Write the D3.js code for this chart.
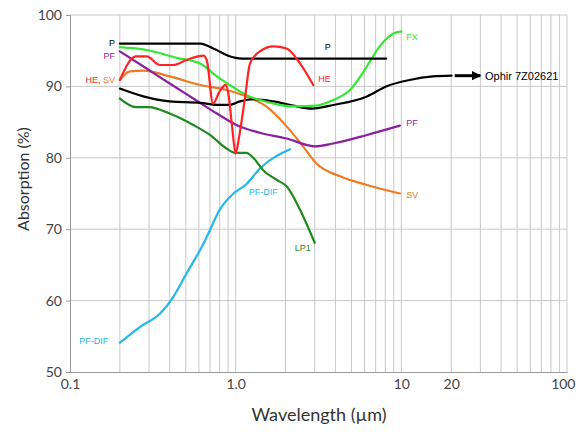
<!DOCTYPE html>
<html><head><meta charset="utf-8">
<script src="https://cdn.jsdelivr.net/npm/d3@7"></script>
<style>body{margin:0;background:#fff}svg{display:block}</style>
</head><body>
<svg id="c" width="576" height="432"></svg>
<script>
// ---- data ----
const xTickValues = [0.1, 1, 10, 20, 100];
const xTickLabels = ["0.1", "1.0", "10", "20", "100"];
const yTickValues = [50, 60, 70, 80, 90, 100];

const P_wl   = [0.2, 0.61, 0.75, 0.9, 1.09, 8.1];
const P_val  = [96.0, 96.0, 95.2, 94.3, 93.9, 93.9];

const FX_wl  = [0.2, 0.29, 0.44, 0.61, 0.77, 1.01, 1.16, 1.69, 2.22, 3.07, 3.88, 4.9, 6.2, 7.4, 8.95, 10];
const FX_val = [95.5, 95.1, 94.0, 93.2, 91.4, 89.6, 88.8, 87.6, 87.2, 87.3, 88.1, 89.5, 92.8, 95.6, 97.4, 97.7];

const OP_wl  = [0.2, 0.277, 0.40, 0.61, 0.80, 0.92, 1.06, 1.30, 1.69, 2.22, 2.9, 3.88, 6.2, 8.1, 11.2, 15.5, 20.1];
const OP_val = [89.7, 88.6, 87.9, 87.7, 87.4, 87.4, 87.9, 88.2, 87.9, 87.3, 86.9, 87.4, 88.6, 90.0, 90.9, 91.4, 91.5];

const PF_wl  = [0.2, 0.29, 0.40, 0.555, 0.77, 1.01, 1.4, 2.03, 2.8, 3.0, 3.88, 6.2, 9.8];
const PF_val = [94.9, 92.5, 90.4, 88.3, 86.2, 84.6, 83.5, 82.7, 81.7, 81.6, 82.0, 83.2, 84.5];

const SV_wl  = [0.2, 0.23, 0.277, 0.40, 0.61, 0.88, 1.16, 1.53, 2.03, 2.55, 3.07, 4.26, 6.2, 9.8];
const SV_val = [90.9, 92.1, 92.2, 91.4, 90.2, 89.5, 88.6, 87.2, 84.4, 81.6, 79.2, 77.4, 76.2, 75.0];

const HE_wl  = [0.2, 0.25, 0.29, 0.35, 0.42, 0.505, 0.64, 0.67, 0.73, 0.80, 0.87, 0.91, 0.95, 1.0, 1.05, 1.14, 1.22, 1.40, 1.69, 2.03, 2.45, 2.94];
const HE_val = [90.9, 94.2, 94.2, 93.0, 93.0, 93.7, 94.3, 93.6, 87.6, 89.3, 90.2, 88.5, 84.5, 80.6, 83.0, 88.5, 93.2, 94.9, 95.6, 95.3, 93.2, 90.2];

const LP_wl  = [0.2, 0.25, 0.30, 0.40, 0.555, 0.70, 0.88, 0.99, 1.16, 1.29, 1.46, 1.77, 2.03, 2.45, 3.0];
const LP_val = [88.3, 87.1, 87.1, 86.2, 84.6, 83.2, 81.3, 80.7, 80.7, 79.9, 78.3, 76.9, 76.0, 72.7, 68.1];

const DIF_wl  = [0.2, 0.264, 0.35, 0.42, 0.505, 0.64, 0.70, 0.80, 0.97, 1.16, 1.40, 2.13];
const DIF_val = [54.1, 56.3, 58.2, 60.5, 63.8, 68.0, 69.9, 72.7, 75.0, 76.3, 78.5, 81.2];

const arrowWl = [21, 30];
const arrowVal = 91.5;

const seriesNames  = ["PF-DIF", "LP1", "SV", "PF", "Ophir", "FX", "P", "HE"];
const seriesColors = ["#22b8e8", "#1e8a1e", "#f07a22", "#8a1fa0", "#000000", "#33e833", "#000000", "#ff2222"];

// annotations: [text, wavelength, value, color, anchor]
const labelText  = ["P", "PF", "HE, SV", "PF-DIF", "P", "HE", "FX", "PF", "SV", "PF-DIF", "LP1", "Ophir 7Z02621"];
const labelWl    = [0.187, 0.187, 0.187, 0.17, 3.6, 3.15, 10.7, 10.7, 10.7, 1.2, 2.27, 32];
const labelVal   = [96.1, 94.3, 90.9, 54.3, 95.5, 91.0, 96.9, 84.9, 74.8, 75.2, 67.4, 91.5];
const labelColor = ["#000", "#8a1fa0", "#ff2222", "#22b8e8", "#000", "#ff2222", "#33e833", "#8a1fa0", "#f07a22", "#22b8e8", "#1e8a1e", "#000"];
const labelAnchor= ["end", "end", "end", "end", "middle", "start", "start", "start", "start", "start", "start", "start"];

// ---- chart ----
const svg = d3.select("#c");
const L = 70, R = 567, T = 15, B = 372;
const x = d3.scaleLog().domain([0.1, 100]).range([L, R]);
const y = d3.scaleLinear().domain([50, 100]).range([B, T]);

// grid
const minor = [];
for (const d of [0.1, 1, 10]) for (let k = 2; k <= 10; k++) minor.push(d * k);
svg.append("g").selectAll("line").data(minor).join("line")
  .attr("x1", d => x(d)).attr("x2", d => x(d)).attr("y1", T).attr("y2", B)
  .attr("stroke", "#c8c8c8").attr("stroke-width", 1);
svg.append("g").selectAll("line").data(yTickValues.slice(1)).join("line")
  .attr("x1", L).attr("x2", R).attr("y1", d => y(d)).attr("y2", d => y(d))
  .attr("stroke", "#c8c8c8").attr("stroke-width", 1);

// axes
const yAxis = svg.append("g").attr("transform", `translate(${L},0)`)
  .call(d3.axisLeft(y).tickValues(yTickValues).tickSize(4).tickPadding(4));
yAxis.select(".domain").attr("stroke", "#999");
yAxis.selectAll(".tick line").attr("stroke", "#999");
yAxis.selectAll("text").attr("font-family", "Lato, 'Open Sans', sans-serif").attr("font-size", 14).attr("fill", "#444");

const xAxis = svg.append("g").attr("transform", `translate(0,${B})`)
  .call(d3.axisBottom(x).tickValues(xTickValues).tickFormat((d, i) => xTickLabels[i]).tickSize(0).tickPadding(7));
xAxis.select(".domain").attr("stroke", "#999");
xAxis.selectAll("text").attr("font-family", "Lato, 'Open Sans', sans-serif").attr("font-size", 14).attr("fill", "#444");
xAxis.selectAll("text").filter(d => d === 100).attr("text-anchor", "end").attr("dx", 575 - R);

// title
svg.append("text").attr("x", 319).attr("y", 421).attr("text-anchor", "middle")
  .attr("font-family", "Lato, 'Open Sans', sans-serif").attr("font-size", 18).attr("fill", "#333")
  .text("Wavelength (µm)");
svg.append("text").attr("transform", "translate(29,179) rotate(-90)").attr("text-anchor", "middle")
  .attr("font-family", "Lato, 'Open Sans', sans-serif").attr("font-size", 16).attr("fill", "#333")
  .text("Absorption (%)");

// series
const allWl = [DIF_wl, LP_wl, SV_wl, PF_wl, OP_wl, FX_wl, P_wl, HE_wl];
const allVal = [DIF_val, LP_val, SV_val, PF_val, OP_val, FX_val, P_val, HE_val];
const line = d3.line().x(d => x(d[0])).y(d => y(d[1])).curve(d3.curveMonotoneX);
seriesNames.forEach((n, i) => {
  const pts = allWl[i].map((w, j) => [w, allVal[i][j]]);
  svg.append("path").datum(pts).attr("d", line)
    .attr("fill", "none").attr("stroke", seriesColors[i]).attr("stroke-width", 2.2)
    .attr("stroke-linejoin", "round").attr("stroke-linecap", "round");
});

// arrow
svg.append("defs").append("marker").attr("id", "ah").attr("viewBox", "0 0 10 10")
  .attr("refX", 9).attr("refY", 5).attr("markerWidth", 3.2).attr("markerHeight", 3.2)
  .attr("orient", "auto").attr("markerUnits", "strokeWidth")
  .append("path").attr("d", "M0,0 L10,5 L0,10 Z").attr("fill", "#000");
svg.append("line").attr("x1", x(arrowWl[0])).attr("x2", x(arrowWl[1]))
  .attr("y1", y(arrowVal)).attr("y2", y(arrowVal))
  .attr("stroke", "#000").attr("stroke-width", 3).attr("marker-end", "url(#ah)");

// labels
svg.append("g").selectAll("text").data(labelText).join("text")
  .attr("x", (d, i) => x(labelWl[i])).attr("y", (d, i) => y(labelVal[i]))
  .attr("dy", "0.35em").attr("text-anchor", (d, i) => labelAnchor[i])
  .attr("font-family", "Arial, 'Liberation Sans', sans-serif")
  .attr("font-size", (d, i) => i === labelText.length - 1 ? 11 : 9)
  .attr("fill", (d, i) => labelColor[i])
  .each(function (d, i) {
    if (d === "HE, SV") {
      const t = d3.select(this);
      t.append("tspan").attr("fill", "#ff2222").text("HE,");
      t.append("tspan").attr("fill", "#f07a22").text(" SV");
    } else d3.select(this).text(d);
  });
</script>
</body></html>
